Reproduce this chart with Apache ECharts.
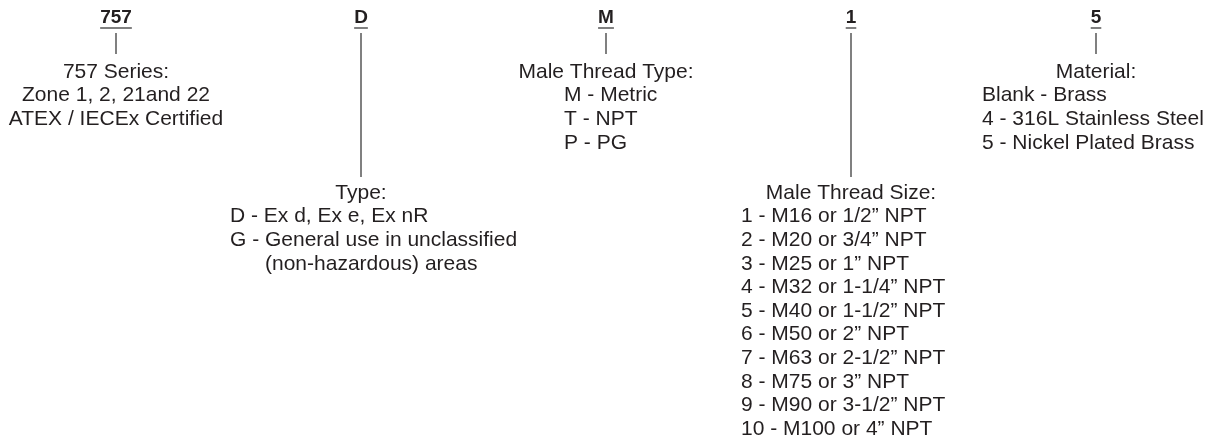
<!DOCTYPE html>
<html><head><meta charset="utf-8">
<script src="https://cdn.jsdelivr.net/npm/echarts@6/dist/echarts.min.js"></script>
<style>html,body{margin:0;padding:0;background:#fff}#c{width:1210px;height:440px}</style>
</head><body><div id="c"></div>
<script>
// ---- content ----
const codes = ['757', 'D', 'M', '1', '5'];
const titles = ['757 Series:', 'Type:', 'Male Thread Type:', 'Male Thread Size:', 'Material:'];
const options757 = ['Zone 1, 2, 21and 22', 'ATEX / IECEx Certified'];
const optionsD = ['D - Ex d, Ex e, Ex nR', 'G - General use in unclassified', '(non-hazardous) areas'];
const optionsM = ['M - Metric', 'T - NPT', 'P - PG'];
const options1 = [
  '1 - M16 or 1/2\u201D NPT', '2 - M20 or 3/4\u201D NPT', '3 - M25 or 1\u201D NPT',
  '4 - M32 or 1-1/4\u201D NPT', '5 - M40 or 1-1/2\u201D NPT', '6 - M50 or 2\u201D NPT',
  '7 - M63 or 2-1/2\u201D NPT', '8 - M75 or 3\u201D NPT', '9 - M90 or 3-1/2\u201D NPT',
  '10 - M100 or 4\u201D NPT'
];
const options5 = ['Blank - Brass', '4 - 316L Stainless Steel', '5 - Nickel Plated Brass'];
const optionLists = [options757, optionsD, optionsM, options1, options5];

// ---- layout (positions & styles) ----
const leaderEnd = [54, 177, 54, 177, 54];
const titleY = [72, 193, 72, 193, 72];
const listLeft = [null, -131, -42, -110, -114]; // null = centered
const lineH = 23.6;
const bodyFont = '21px "Liberation Sans", Arial, Helvetica, sans-serif';
const headFont = 'bold 19px "Liberation Sans Narrow", "Liberation Sans", Arial, sans-serif';
const textColor = '#231f20';
const ruleColor = '#4a4a4a';

const ctx = document.createElement('canvas').getContext('2d');
function measure(t, f) { ctx.font = f; return ctx.measureText(t).width; }

const chart = echarts.init(document.getElementById('c'), null, { renderer: 'canvas' });
chart.setOption({
  animation: false,
  grid: { left: 0, right: 0, top: 0, bottom: 0 },
  xAxis: { type: 'value', min: -116 / 245, max: (1210 - 116) / 245, show: false },
  yAxis: { type: 'value', min: 0, max: 440, inverse: true, show: false },
  series: [{
    type: 'custom',
    data: codes.map((c, i) => [i, 0]),
    renderItem: function (params, api) {
      const i = api.value(0);
      const cx = api.coord([i, 0])[0];
      const Y = v => api.coord([i, v])[1];
      const children = [];
      const hw = measure(codes[i], headFont);
      children.push({ type: 'text', x: cx, y: Y(18), style: { text: codes[i], font: headFont, fill: textColor, textAlign: 'center', textVerticalAlign: 'middle' } });
      children.push({ type: 'line', shape: { x1: cx - hw / 2, y1: Y(28), x2: cx + hw / 2, y2: Y(28) }, style: { stroke: ruleColor, lineWidth: 1.4 } });
      children.push({ type: 'line', shape: { x1: cx, y1: Y(33), x2: cx, y2: Y(leaderEnd[i]) }, style: { stroke: ruleColor, lineWidth: 1.4 } });
      children.push({ type: 'text', x: cx, y: Y(titleY[i]), style: { text: titles[i], font: bodyFont, fill: textColor, textAlign: 'center', textVerticalAlign: 'middle' } });
      let prevPrefix = 0;
      optionLists[i].forEach((t, k) => {
        const yy = Y(titleY[i] + lineH * (k + 1));
        if (listLeft[i] === null) {
          children.push({ type: 'text', x: cx, y: yy, style: { text: t, font: bodyFont, fill: textColor, textAlign: 'center', textVerticalAlign: 'middle' } });
        } else {
          const m = t.match(/^(\S+ - )/);
          let x = cx + listLeft[i];
          if (m) { prevPrefix = measure(m[1], bodyFont); } else { x += prevPrefix; }
          children.push({ type: 'text', x: x, y: yy, style: { text: t, font: bodyFont, fill: textColor, textAlign: 'left', textVerticalAlign: 'middle' } });
        }
      });
      return { type: 'group', children: children };
    }
  }]
});
</script>
</body></html>
